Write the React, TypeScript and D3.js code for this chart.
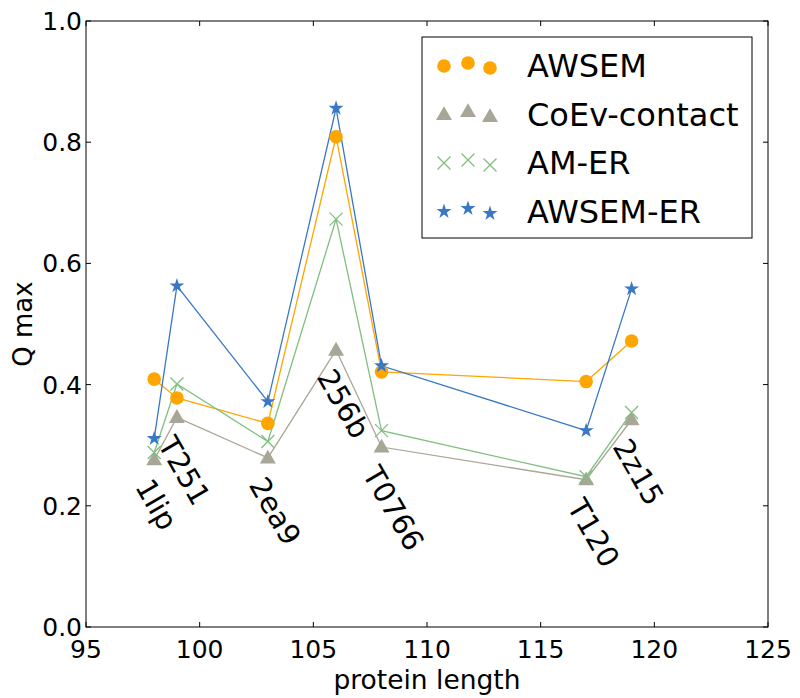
import React from "react";
import * as d3 from "d3";

// protein lengths and names
const lengths = [98, 99, 103, 106, 108, 117, 119];
const names = ["1lip", "T251", "2ea9", "256b", "T0766", "T120", "2z15"];

// Q max per method
const awsem = [0.409, 0.378, 0.336, 0.809, 0.421, 0.405, 0.472];
const coev = [0.276, 0.346, 0.279, 0.457, 0.297, 0.243, 0.342];
const amEr = [0.288, 0.401, 0.306, 0.673, 0.324, 0.248, 0.354];
const awsemEr = [0.311, 0.563, 0.372, 0.856, 0.431, 0.324, 0.558];

const xTicks = [95, 100, 105, 110, 115, 120, 125];
const yTicks = [0, 0.2, 0.4, 0.6, 0.8, 1.0];

const W = 800, H = 698;
const m = { left: 86, right: 768, top: 21, bottom: 627 };
const FONT = "'DejaVu Sans', sans-serif";

const series = [
  { name: "AWSEM", values: awsem, color: "#FFA500", shape: "circle" },
  { name: "CoEv-contact", values: coev, color: "#A8A696", shape: "triangle" },
  { name: "AM-ER", values: amEr, color: "#7FBF7F", shape: "cross" },
  { name: "AWSEM-ER", values: awsemEr, color: "#3A78C6", shape: "star" },
];

const Marker = ({ shape, x, y, color }: { shape: string; x: number; y: number; color: string }) => {
  if (shape === "circle") return <circle cx={x} cy={y} r={6.8} fill={color} />;
  if (shape === "triangle") {
    const p = d3.symbol(d3.symbolTriangle, 110)();
    return <path d={p || ""} transform={`translate(${x},${y + 1})`} fill={color} />;
  }
  if (shape === "star") {
    const p = d3.symbol(d3.symbolStar, 70)();
    return <path d={p || ""} transform={`translate(${x},${y})`} fill={color} />;
  }
  const s = 6.5;
  return (
    <path
      d={`M${x - s},${y - s}L${x + s},${y + s}M${x - s},${y + s}L${x + s},${y - s}`}
      stroke={color}
      strokeWidth={1.3}
      fill="none"
    />
  );
};

export default function App() {
  const x = d3.scaleLinear().domain([95, 125]).range([m.left, m.right]);
  const y = d3.scaleLinear().domain([0, 1]).range([m.bottom, m.top]);
  const line = d3
    .line<number>()
    .x((_, i) => x(lengths[i]))
    .y((d) => y(d));

  const tick = 5;
  const legX = [444, 468, 490];
  const legDy = [0, -3, 2];

  return (
    <svg width={W} height={H} style={{ position: "absolute", left: 0, top: 0, background: "#fff" }}>
      {/* lines */}
      {series.map((s) => (
        <path key={s.name + "l"} d={line(s.values) || ""} fill="none" stroke={s.color} strokeWidth={1.3} />
      ))}
      {/* markers */}
      {series.map((s) =>
        s.values.map((v, i) => (
          <Marker key={s.name + i} shape={s.shape} x={x(lengths[i])} y={y(v)} color={s.color} />
        ))
      )}
      {/* point labels */}
      {names.map((n, i) => {
        const low = Math.min(awsem[i], coev[i], amEr[i], awsemEr[i]);
        const px = x(lengths[i]) - 1;
        const py = y(low) + 16;
        return (
          <text
            key={n}
            x={px}
            y={py}
            transform={`rotate(60,${px},${py})`}
            fontFamily={FONT}
            fontSize={29}
            dominantBaseline="hanging"
            textAnchor="start"
          >
            {n}
          </text>
        );
      })}
      {/* frame */}
      <rect x={m.left} y={m.top} width={m.right - m.left} height={m.bottom - m.top} fill="none" stroke="#000" strokeWidth={1} />
      {/* x ticks */}
      {xTicks.map((t) => (
        <g key={"x" + t}>
          <line x1={x(t)} x2={x(t)} y1={m.bottom} y2={m.bottom - tick} stroke="#000" />
          <line x1={x(t)} x2={x(t)} y1={m.top} y2={m.top + tick} stroke="#000" />
          <text x={x(t)} y={658} textAnchor="middle" fontFamily={FONT} fontSize={25}>
            {t}
          </text>
        </g>
      ))}
      {/* y ticks */}
      {yTicks.map((t) => (
        <g key={"y" + t}>
          <line x1={m.left} x2={m.left + tick} y1={y(t)} y2={y(t)} stroke="#000" />
          <line x1={m.right} x2={m.right - tick} y1={y(t)} y2={y(t)} stroke="#000" />
          <text x={82} y={y(t) + 9} textAnchor="end" fontFamily={FONT} fontSize={25}>
            {d3.format(".1f")(t)}
          </text>
        </g>
      ))}
      {/* axis titles */}
      <text x={(m.left + m.right) / 2} y={689} textAnchor="middle" fontFamily={FONT} fontSize={26.5}>
        protein length
      </text>
      <text
        x={32}
        y={(m.top + m.bottom) / 2}
        transform={`rotate(-90,32,${(m.top + m.bottom) / 2})`}
        textAnchor="middle"
        fontFamily={FONT}
        fontSize={26}
      >
        Q max
      </text>
      {/* legend */}
      <rect x={422} y={37} width={330} height={201} fill="#fff" stroke="#000" strokeWidth={1} />
      {series.map((s, k) => {
        const cy = 66 + k * 48.5;
        return (
          <g key={s.name + "leg"}>
            {legX.map((lx, j) => (
              <Marker key={j} shape={s.shape} x={lx} y={cy + legDy[j]} color={s.color} />
            ))}
            <text x={527} y={cy + 11} fontFamily={FONT} fontSize={32}>
              {s.name}
            </text>
          </g>
        );
      })}
    </svg>
  );
}
